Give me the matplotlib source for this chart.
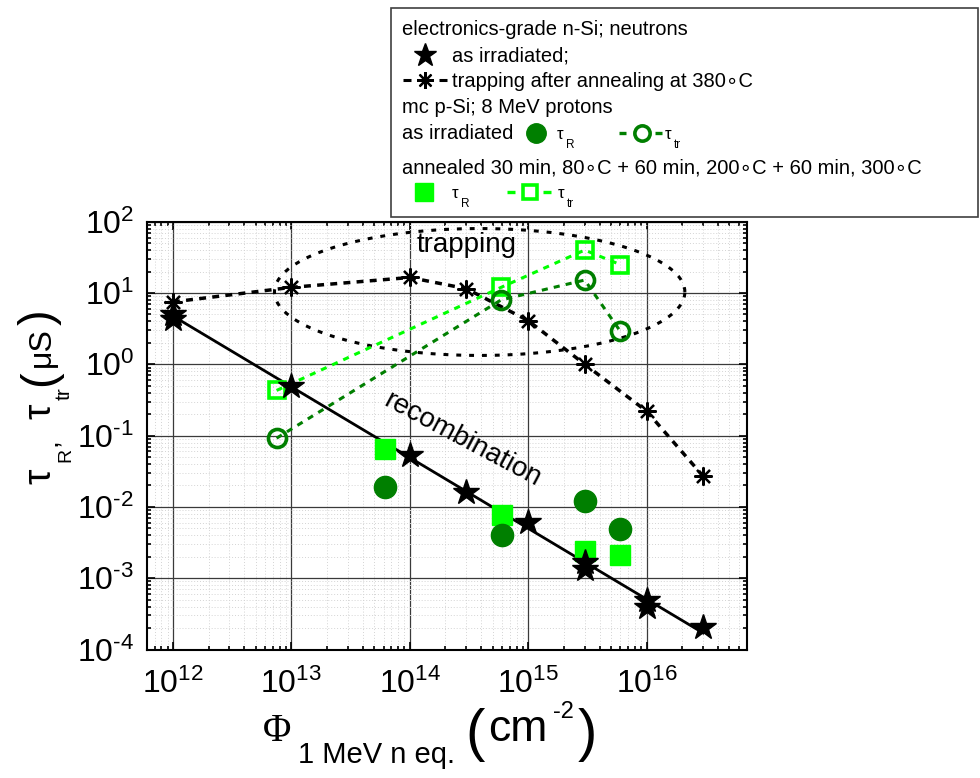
import numpy as np
import matplotlib
matplotlib.use('Agg')
import matplotlib.pyplot as plt
from matplotlib.lines import Line2D
from matplotlib.patches import Rectangle
from matplotlib.ticker import LogLocator, NullFormatter, FuncFormatter

# ---------------- data ----------------
# electronics-grade n-Si, neutrons, as irradiated (tau_R)
star_x = [1e12, 1e12, 1e13, 1e14, 3e14, 1e15, 3e15, 3e15, 1e16, 1e16, 3e16]
star_y = [5.0, 4.3, 0.49, 0.054, 0.016, 0.0062, 0.0017, 0.00135, 0.0005, 0.0004, 0.00021]
# trapping after annealing at 380 C
trap_x = [1e12, 1e13, 1e14, 3e14, 1e15, 3e15, 1e16, 3e16]
trap_y = [7.5, 12, 16.5, 11.5, 4.1, 1.0, 0.22, 0.027]
# mc p-Si, 8 MeV protons
mcR_x = [6.2e13, 6e14, 3e15, 6e15]
mc_irr_tauR = [0.019, 0.004, 0.012, 0.0049]
mc_ann_tauR = [0.064, 0.0077, 0.0024, 0.0021]
mcT_x = [7.5e12, 5.9e14, 3e15, 6e15]
mc_irr_tautr = [0.092, 8.0, 15.2, 2.9]
mc_ann_tautr = [0.43, 12, 40, 25]
# dotted "trapping" ellipse (log10 centre, half-widths in decades)
ell_cx, ell_cy, ell_a, ell_b = 14.59, 1.014, 1.733, 0.89

DARK = '#007f00'
LIGHT = '#00ff00'

plt.rcParams['font.family'] = ['Liberation Sans', 'DejaVu Sans']
plt.rcParams['mathtext.fontset'] = 'custom'
plt.rcParams['mathtext.rm'] = 'Liberation Sans'
plt.rcParams['mathtext.it'] = 'Liberation Sans:italic'
plt.rcParams['mathtext.bf'] = 'Liberation Sans:bold'
plt.rcParams['mathtext.sf'] = 'Liberation Sans'
plt.rcParams['mathtext.default'] = 'regular'
plt.rcParams['axes.unicode_minus'] = False

W, H = 980, 778
fig = plt.figure(figsize=(W / 100, H / 100), dpi=100)
L, R, T, B = 146.7, 746.7, 221.7, 649.5
ax = fig.add_axes([L / W, 1 - B / H, (R - L) / W, (B - T) / H])
ax.set_xscale('log')
ax.set_yscale('log')
ax.set_xlim(6e11, 7e16)
ax.set_ylim(1e-4, 1e2)


def dec_fmt(v, pos):
    e = int(round(np.log10(v)))
    es = str(e).replace('-', r'\text{-}')
    return r'$\mathdefault{10^{%s}}$' % es


ax.xaxis.set_major_locator(LogLocator(base=10, numticks=20))
ax.yaxis.set_major_locator(LogLocator(base=10, numticks=20))
ax.xaxis.set_minor_locator(LogLocator(base=10, subs=np.arange(2, 10), numticks=20))
ax.yaxis.set_minor_locator(LogLocator(base=10, subs=np.arange(2, 10), numticks=20))
ax.xaxis.set_major_formatter(FuncFormatter(dec_fmt))
ax.yaxis.set_major_formatter(FuncFormatter(dec_fmt))
ax.xaxis.set_minor_formatter(NullFormatter())
ax.yaxis.set_minor_formatter(NullFormatter())

ax.grid(True, which='major', color='#3a3a3a', lw=0.9, ls='-')
ax.grid(True, which='minor', color='#d4d4d4', lw=0.7, ls=(0, (1, 2)))
ax.set_axisbelow(True)
for s in ax.spines.values():
    s.set_linewidth(1.5)
ax.tick_params(which='both', direction='in', top=True, right=True, width=1.2)
ax.tick_params(which='major', length=6, labelsize=23)
ax.tick_params(axis='x', which='major', pad=14)
ax.tick_params(axis='y', which='major', pad=9)
ax.tick_params(which='minor', length=3)

# ellipse
t = np.linspace(0, 2 * np.pi, 300)
ax.plot(10 ** (ell_cx + ell_a * np.cos(t)), 10 ** (ell_cy + ell_b * np.sin(t)),
        color='black', lw=2.2, ls=(0, (1.6, 2.6)), zorder=2)

# recombination fit line through stars
p = np.polyfit(np.log10(star_x), np.log10(star_y), 1)
fx = np.array([min(star_x), max(star_x)])
ax.plot(fx, 10 ** np.polyval(p, np.log10(fx)), color='black', lw=2.0, zorder=3)

ax.plot(trap_x, trap_y, color='black', lw=2.5, ls=(0, (2.0, 1.8)),
        marker=(8, 2, 0), ms=13, mew=1.6, mec='black', zorder=4)
ax.plot(mcT_x, mc_ann_tautr, color=LIGHT, lw=2.2, ls=(0, (2.0, 2.0)),
        marker='s', ms=11.5, mfc='none', mec=LIGHT, mew=2.6, zorder=4)
ax.plot(mcT_x, mc_irr_tautr, color=DARK, lw=2.2, ls=(0, (2.0, 2.0)),
        marker='o', ms=13, mfc='none', mec=DARK, mew=2.6, zorder=4)
ax.plot(mcR_x, mc_ann_tauR, ls='none', marker='s', ms=14, mfc=LIGHT, mec=LIGHT, zorder=5)
ax.plot(mcR_x, mc_irr_tauR, ls='none', marker='o', ms=16, mfc=DARK, mec=DARK, zorder=5)
ax.plot(star_x, star_y, ls='none', marker='*', ms=19, mfc='black', mec='black', zorder=6)

ax.text(3e14, 47, 'trapping', fontsize=20, ha='center', va='center', zorder=7)
ax.text(2.75e14, 0.087, 'recombination', fontsize=20, ha='center', va='center',
        rotation=-28, rotation_mode='anchor', zorder=7)


def fx_(x):
    return x / W


def fy_(y):
    return 1 - y / H


def ftext(x, y, s, **kw):
    kw.setdefault('ha', 'left')
    kw.setdefault('va', 'baseline')
    return fig.text(fx_(x), fy_(y), s, **kw)


# ---------------- x label (pieces) ----------------
ftext(263, 741, 'Φ', fontsize=28, family=['Liberation Serif', 'DejaVu Serif'])
ftext(298, 763, '1 MeV n eq.', fontsize=21)
ftext(465, 750, '(', fontsize=42)
ftext(488, 741, 'cm', fontsize=32)
ftext(553, 718, '-2', fontsize=17)
ftext(578, 750, ')', fontsize=42)

# ---------------- y label (pieces, rotated) ----------------
def ytext(xb, ystart, s, **kw):
    return fig.text(fx_(xb), fy_(ystart), s, rotation=90, rotation_mode='anchor',
                    ha='left', va='baseline', **kw)


ytext(50, 484, 'τ', fontsize=28)
ytext(70, 462, 'R', fontsize=14)
ytext(57, 446, ',', fontsize=20)
ytext(50, 419, 'τ', fontsize=28)
ytext(70, 400, 'tr', fontsize=15)
ytext(52, 386, '(', fontsize=34)
ytext(50, 367, 'μS', fontsize=23)
ytext(52, 325, ')', fontsize=34)

# ---------------- legend box ----------------
fig.add_artist(Rectangle((fx_(391), fy_(216.5)), fx_(978) - fx_(391), fy_(8) - fy_(216.5),
                         transform=fig.transFigure, facecolor='white',
                         edgecolor='#404040', lw=1.2, zorder=10))
LFS = 14.5


def lt(x, y, s, **kw):
    kw.setdefault('fontsize', LFS)
    t_ = ftext(x, y, s, **kw)
    t_.set_zorder(11)
    return t_


def lmark(x, y, **kw):
    fig.add_artist(Line2D([fx_(x)], [fy_(y)], transform=fig.transFigure, ls='none',
                          zorder=11, **kw))


def lseg(x0, x1, y, color, lw=3):
    fig.add_artist(Line2D([fx_(x0), fx_(x1)], [fy_(y), fy_(y)], transform=fig.transFigure,
                          color=color, lw=lw, solid_capstyle='butt', zorder=11))


def tau(x, y, sub):
    lt(x, y, 'τ', fontsize=12)
    lt(x + 9, y + 9, sub, fontsize=8.5)


lt(402, 35, 'electronics-grade n-Si; neutrons')
lmark(425, 55, marker='*', ms=17, mfc='black', mec='black')
lt(452, 62, 'as irradiated;')
lseg(403, 411, 80, 'black', lw=2.2)
lseg(439, 447, 80, 'black', lw=2.2)
lmark(425, 80, marker=(8, 2, 0), ms=12, mew=1.6, mec='black')
lt(452, 87, 'trapping after annealing at 380\u2218C')
lt(402, 113, 'mc p-Si; 8 MeV protons')
lt(402, 139, 'as irradiated')
lmark(536, 133, marker='o', ms=14, mfc=DARK, mec=DARK)
tau(557, 139, 'R')
lseg(619, 626, 133, DARK, lw=2.4)
lseg(655, 662, 133, DARK, lw=2.4)
lmark(642, 133, marker='o', ms=11, mfc='none', mec=DARK, mew=2.6)
tau(665, 139, 'tr')
lt(402, 174, 'annealed 30 min, 80\u2218C + 60 min, 200\u2218C + 60 min, 300\u2218C')
lmark(424, 192, marker='s', ms=12.5, mfc=LIGHT, mec=LIGHT)
tau(452, 198, 'R')
lseg(507, 515, 192, LIGHT, lw=2.4)
lseg(543, 551, 192, LIGHT, lw=2.4)
lmark(530, 192, marker='s', ms=10, mfc='none', mec=LIGHT, mew=2.6)
tau(558, 198, 'tr')

fig.savefig('out.png', dpi=100)
